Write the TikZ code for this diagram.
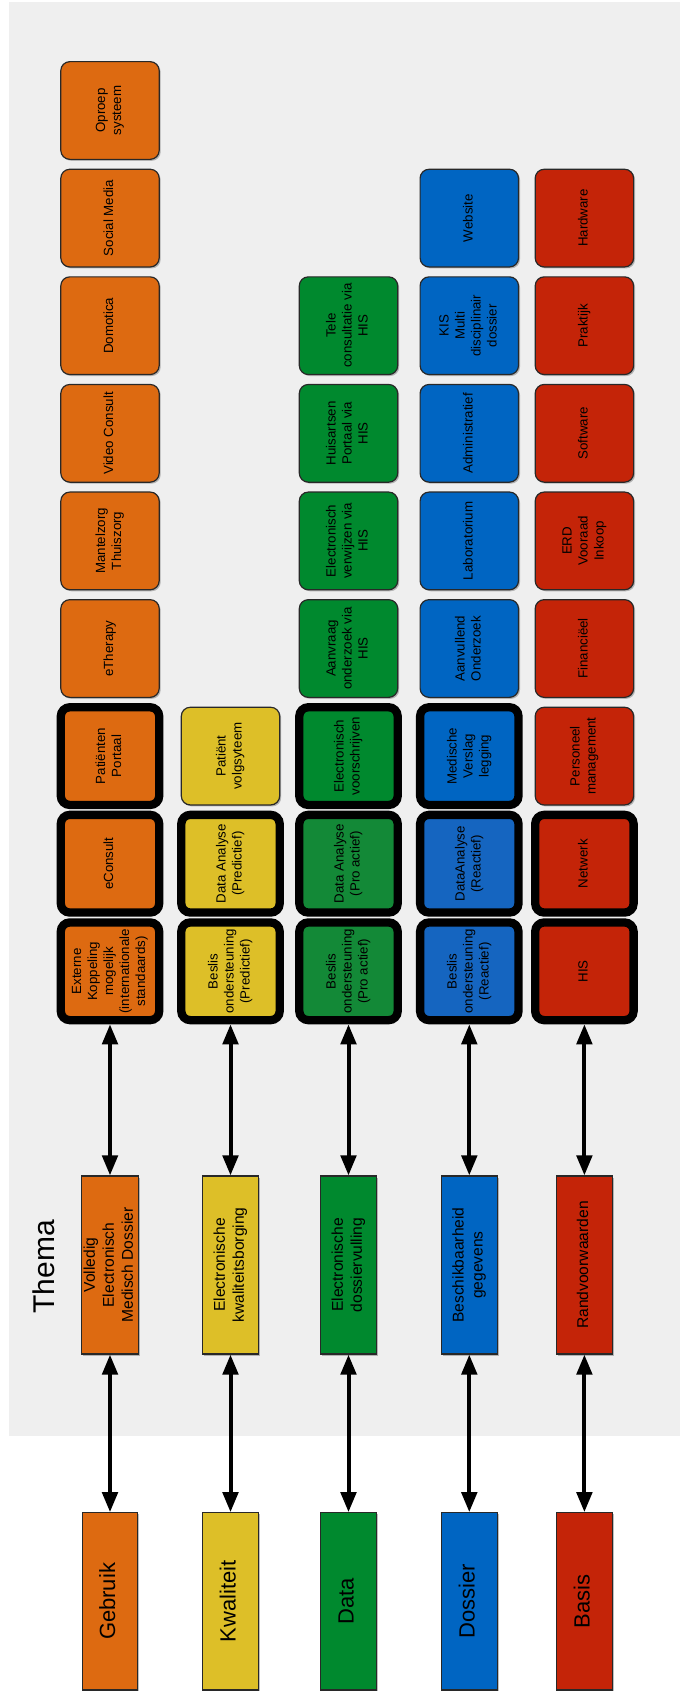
\documentclass[tikz,border=0pt]{standalone}
\usepackage{fontspec}
\setmainfont{Liberation Sans}
\usetikzlibrary{arrows.meta,shadows}
\definecolor{cOr}{RGB}{221,106,17}
\definecolor{cYe}{RGB}{221,191,40}
\definecolor{cGr}{RGB}{0,137,46}
\definecolor{cGrb}{RGB}{19,137,55}
\definecolor{cBl}{RGB}{0,101,194}
\definecolor{cBlb}{RGB}{21,101,192}
\definecolor{cRe}{RGB}{196,36,8}
\definecolor{cBg}{RGB}{239,239,239}
\definecolor{cEdge}{RGB}{40,40,40}
\newcommand\rtxt[1]{\rotatebox{90}{\begin{tabular}{@{}c@{}}#1\end{tabular}}}
\tikzset{
 shad/.style={drop shadow={shadow xshift=1.5pt,shadow yshift=-1.5pt,opacity=0.25,fill=black}},
 stdbox/.style={draw=cEdge,line width=1.2pt,rounded corners=9pt,minimum width=98.4pt,minimum height=97.7pt,inner sep=0pt,font=\fontsize{13.3}{16}\selectfont,shad},
 thickbox/.style={stdbox,draw=black,line width=8.3pt},
 themebox/.style={draw=cEdge,line width=1.2pt,minimum width=55.7pt,minimum height=178pt,inner sep=0pt,font=\fontsize{15.6}{19}\selectfont,shad},
 basebox/.style={themebox,minimum height=177.3pt,font=\fontsize{22}{26}\selectfont},
 arr/.style={{Triangle[width=15.3pt,length=20pt]}-{Triangle[width=15.3pt,length=20pt]},line width=4pt,black},
}
\begin{document}
\begin{tikzpicture}[x=1pt,y=-1pt]
\useasboundingbox (0,0) rectangle (680,1691);
\fill[cBg] (8.7,2) rectangle (680,1435.7);
\node[rotate=90,font=\fontsize{30}{36}\selectfont] (thema) at (43.4,1266.7) {Thema};
% orange column
\node[stdbox,fill=cOr] (o1) at (110,110.5) {\rtxt{Oproep\\systeem}};
\node[stdbox,fill=cOr] (o2) at (110,218.1) {\rtxt{Social Media}};
\node[stdbox,fill=cOr] (o3) at (110,325.7) {\rtxt{Domotica}};
\node[stdbox,fill=cOr] (o4) at (110,433.3) {\rtxt{Video Consult}};
\node[stdbox,fill=cOr] (o5) at (110,540.9) {\rtxt{Mantelzorg\\Thuiszorg}};
\node[stdbox,fill=cOr] (o6) at (110,648.5) {\rtxt{eTherapy}};
\node[thickbox,fill=cOr] (o7) at (110,756.1) {\rtxt{Patiënten\\Portaal}};
\node[thickbox,fill=cOr] (o8) at (110,863.7) {\rtxt{eConsult}};
\node[thickbox,fill=cOr] (o9) at (110,971.3) {\rtxt{Externe\\Koppeling\\mogelijk\\(internationale\\standaards)}};
% yellow column
\node[stdbox,fill=cYe] (y7) at (230.5,756.1) {\rtxt{Patiënt\\volgsyteem}};
\node[thickbox,fill=cYe] (y8) at (230.5,863.7) {\rtxt{Data Analyse\\(Predictief)}};
\node[thickbox,fill=cYe] (y9) at (230.5,971.3) {\rtxt{Beslis\\ondersteuning\\(Predictief)}};
% green column
\node[stdbox,fill=cGr] (g3) at (348.5,325.7) {\rtxt{Tele\\consultatie via\\HIS}};
\node[stdbox,fill=cGr] (g4) at (348.5,433.3) {\rtxt{Huisartsen\\Portaal via\\HIS}};
\node[stdbox,fill=cGr] (g5) at (348.5,540.9) {\rtxt{Electronisch\\verwijzen via\\HIS}};
\node[stdbox,fill=cGr] (g6) at (348.5,648.5) {\rtxt{Aanvraag\\onderzoek via\\HIS}};
\node[thickbox,fill=cGr] (g7) at (348.5,756.1) {\rtxt{Electronisch\\voorschrijven}};
\node[thickbox,fill=cGrb] (g8) at (348.5,863.7) {\rtxt{Data Analyse\\(Pro actief)}};
\node[thickbox,fill=cGrb] (g9) at (348.5,971.3) {\rtxt{Beslis\\ondersteuning\\(Pro actief)}};
% blue column
\node[stdbox,fill=cBl] (b2) at (469.3,218.1) {\rtxt{Website}};
\node[stdbox,fill=cBl] (b3) at (469.3,325.7) {\rtxt{KIS\\Multi\\disciplinair\\dossier}};
\node[stdbox,fill=cBl] (b4) at (469.3,433.3) {\rtxt{Administratief}};
\node[stdbox,fill=cBl] (b5) at (469.3,540.9) {\rtxt{Laboratorium}};
\node[stdbox,fill=cBl] (b6) at (469.3,648.5) {\rtxt{Aanvullend\\Onderzoek}};
\node[thickbox,fill=cBl] (b7) at (469.3,756.1) {\rtxt{Medische\\Verslag\\legging}};
\node[thickbox,fill=cBlb] (b8) at (469.3,863.7) {\rtxt{DataAnalyse\\(Reactief)}};
\node[thickbox,fill=cBlb] (b9) at (469.3,971.3) {\rtxt{Beslis\\ondersteuning\\(Reactief)}};
% red column
\node[stdbox,fill=cRe] (r2) at (584.4,218.1) {\rtxt{Hardware}};
\node[stdbox,fill=cRe] (r3) at (584.4,325.7) {\rtxt{Praktijk}};
\node[stdbox,fill=cRe] (r4) at (584.4,433.3) {\rtxt{Software}};
\node[stdbox,fill=cRe] (r5) at (584.4,540.9) {\rtxt{ERD\\Vooraad\\Inkoop}};
\node[stdbox,fill=cRe] (r6) at (584.4,648.5) {\rtxt{Financiëel}};
\node[stdbox,fill=cRe] (r7) at (584.4,756.1) {\rtxt{Personeel\\management}};
\node[thickbox,fill=cRe] (r8) at (584.4,863.7) {\rtxt{Netwerk}};
\node[thickbox,fill=cRe] (r9) at (584.4,971.3) {\rtxt{HIS}};
% theme boxes
\node[themebox,fill=cOr] (tO) at (110,1265) {\rtxt{Volledig\\Electronisch\\Medisch Dossier}};
\node[themebox,fill=cYe] (tY) at (230.5,1265) {\rtxt{Electronische\\kwaliteitsborging}};
\node[themebox,fill=cGr] (tG) at (348.5,1265) {\rtxt{Electronische\\dossiervulling}};
\node[themebox,fill=cBl] (tB) at (469.3,1265) {\rtxt{Beschikbaarheid\\gegevens}};
\node[themebox,fill=cRe] (tR) at (584.4,1265) {\rtxt{Randvoorwaarden}};
% base boxes
\node[basebox,fill=cOr] (bO) at (110,1601.4) {\rtxt{Gebruik}};
\node[basebox,fill=cYe] (bY) at (230.5,1601.4) {\rtxt{Kwaliteit}};
\node[basebox,fill=cGr] (bG) at (348.5,1601.4) {\rtxt{Data}};
\node[basebox,fill=cBl] (bB) at (469.3,1601.4) {\rtxt{Dossier}};
\node[basebox,fill=cRe] (bR) at (584.4,1601.4) {\rtxt{Basis}};
% arrows
\foreach \c/\t/\b in {o9/tO/bO, y9/tY/bY, g9/tG/bG, b9/tB/bB, r9/tR/bR}{
  \draw[arr] (\c) -- (\t);
  \draw[arr] (\t) -- (\b);
}
\end{tikzpicture}
\end{document}
